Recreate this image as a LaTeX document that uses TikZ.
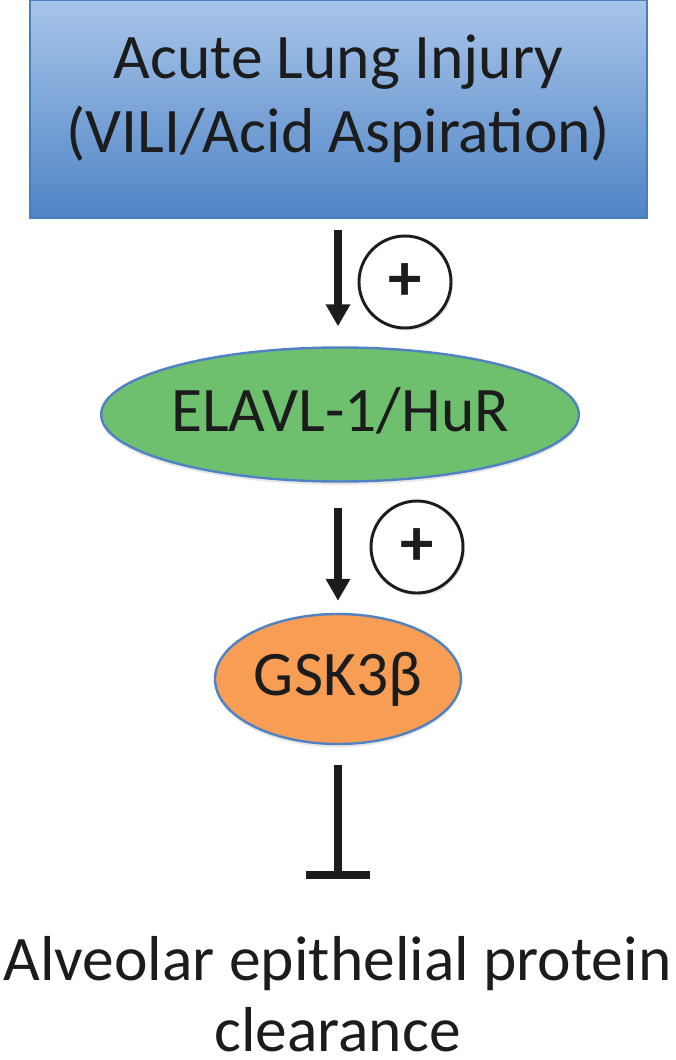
\documentclass[tikz,border=0pt]{standalone}
\usepackage{fontspec}
\setmainfont{Carlito}
\usetikzlibrary{arrows.meta,shapes.geometric,shadows}
\definecolor{boxtop}{RGB}{168,197,234}
\definecolor{boxbot}{RGB}{79,132,197}
\definecolor{boxline}{RGB}{74,126,187}
\definecolor{elgreen}{RGB}{110,191,110}
\definecolor{elorange}{RGB}{247,157,84}
\definecolor{elline}{RGB}{80,130,195}
\definecolor{ink}{RGB}{28,28,28}
\tikzset{
  bigfont/.style={font=\fontsize{47.6}{55.5}\selectfont, text=ink},
  oval/.style={ellipse, draw=elline, line width=1.8pt, inner sep=0pt, bigfont,
     text height=35pt, text depth=10pt,
     drop shadow={shadow xshift=0pt, shadow yshift=-2.5pt, opacity=0.18}},
  pluscirc/.style={circle, draw=ink, line width=2.2pt, fill=white, minimum size=69pt, inner sep=0pt,
     font=\fontsize{50}{50}\bfseries\selectfont, text=ink,
     drop shadow={shadow xshift=1.5pt, shadow yshift=-2pt, opacity=0.18}},
  actarrow/.style={draw=ink, line width=5.4pt, -{Triangle[width=17.5pt,length=16.5pt]}},
  inhibit/.style={draw=ink, line width=6pt, -{Bar[width=47.5pt]}}
}
\begin{document}
\begin{tikzpicture}[x=0.75pt,y=-0.75pt]
\useasboundingbox (0,0) rectangle (675,1060);
% top box
\node[rectangle, draw=boxline, line width=1.5pt, top color=boxtop, bottom color=boxbot,
      minimum width=462.75pt, minimum height=163.5pt, inner sep=0pt] (box) at (338.5,109) {};
\node[bigfont, align=center, anchor=base, inner sep=0pt] (boxtext) at (338.5,152)
  {Acute Lung Injury\\(VILI/Acid Aspiration)};
% ellipses
\node[oval, fill=elgreen, minimum width=306pt, minimum height=100.5pt] (hur) at (340,414.5) {ELAVL-1/HuR};
\node[oval, fill=elorange, minimum width=184.5pt, minimum height=97.5pt] (gsk) at (338,679) {GSK3β};
% plus circles
\node[pluscirc] (p1) at (405,282) {+};
\node[pluscirc] (p2) at (417,547) {+};
% bottom text
\node[font=\fontsize{47.6}{53.25}\selectfont, text=ink, align=center, anchor=base, inner sep=0pt] (clear) at (337.5,1051)
  {Alveolar epithelial protein\\clearance};
\coordinate (inhend) at (338,879);
% connectors
\draw[actarrow, shorten <=8.5pt, shorten >=15pt] (box.south -| gsk.north) -- (gsk.north |- hur.north);
\draw[actarrow, shorten <=18.75pt, shorten >=9pt] (hur.south -| gsk.north) -- (gsk.north);
\draw[inhibit, shorten <=15pt] (gsk.south) -- (inhend);
\end{tikzpicture}
\end{document}
